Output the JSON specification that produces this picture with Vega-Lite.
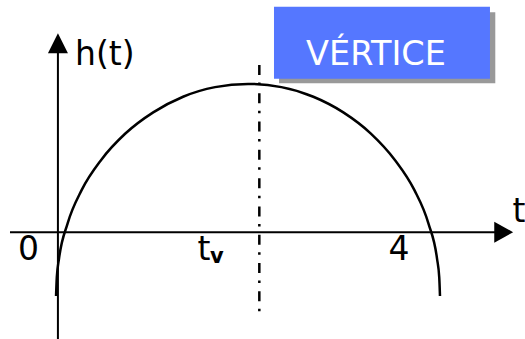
{
  "$schema": "https://vega.github.io/schema/vega-lite/v6.json",
  "width": 525,
  "height": 339,
  "autosize": {"type": "none"},
  "padding": 0,
  "background": "white",
  "config": {"view": {"stroke": null}, "text": {"font": "DejaVu Sans"}},
  "datasets": {
    "curve": [
      {"t": -0.020, "h": -1.731}, {"t": -0.012, "h": -1.229}, {"t": 0.011, "h": -0.732},
      {"t": 0.104, "h": 0.237}, {"t": 0.255, "h": 1.146}, {"t": 0.465, "h": 1.967},
      {"t": 0.722, "h": 2.676}, {"t": 1.020, "h": 3.251}, {"t": 1.340, "h": 3.675},
      {"t": 1.682, "h": 3.935}, {"t": 2.035, "h": 4.022}, {"t": 2.392, "h": 3.935},
      {"t": 2.734, "h": 3.675}, {"t": 3.055, "h": 3.251}, {"t": 3.350, "h": 2.676},
      {"t": 3.605, "h": 1.967}, {"t": 3.815, "h": 1.146}, {"t": 3.966, "h": 0.237},
      {"t": 4.059, "h": -0.732}, {"t": 4.082, "h": -1.229}, {"t": 4.090, "h": -1.731}
    ]
  },
  "encoding": {
    "x": {"field": "t", "type": "quantitative", "scale": {"domain": [-0.62, 5.0], "nice": false, "zero": false}, "axis": null},
    "y": {"field": "h", "type": "quantitative", "scale": {"domain": [-2.9, 6.3], "nice": false, "zero": false}, "axis": null}
  },
  "layer": [
    {
      "data": {"values": [{"t": 2.367, "t2": 4.682, "h": 5.967, "h2": 4.041}]},
      "mark": {"type": "rect", "color": "#999999"},
      "encoding": {"x2": {"field": "t2"}, "y2": {"field": "h2"}}
    },
    {
      "data": {"values": [{"t": 2.313, "t2": 4.625, "h": 6.119, "h2": 4.166}]},
      "mark": {"type": "rect", "color": "#5577ff"},
      "encoding": {"x2": {"field": "t2"}, "y2": {"field": "h2"}}
    },
    {
      "data": {"values": [
        {"t": -0.513, "t2": 4.772, "h": 0, "h2": 0},
        {"t": 0, "t2": 0, "h": -2.9, "h2": 5.126}
      ]},
      "mark": {"type": "rule", "color": "black", "strokeWidth": 2},
      "encoding": {"x2": {"field": "t2"}, "y2": {"field": "h2"}}
    },
    {
      "data": {"values": [{"t": 4.772, "h": 0}]},
      "mark": {"type": "point", "shape": "M-0.9,-1L0.9,0L-0.9,1Z", "size": 441, "filled": true, "color": "black", "opacity": 1}
    },
    {
      "data": {"values": [{"t": 0, "h": 5.126}]},
      "mark": {"type": "point", "shape": "M-1,1L0,-1L1,1Z", "size": 400, "filled": true, "color": "black", "opacity": 1}
    },
    {
      "data": {"values": [{"t": 2.156, "h": 4.537, "h2": -2.152}]},
      "mark": {"type": "rule", "color": "black", "strokeWidth": 2.5, "strokeDash": [10, 7.5, 2.5, 8.3]},
      "encoding": {"y2": {"field": "h2"}}
    },
    {
      "data": {"name": "curve"},
      "mark": {"type": "line", "color": "black", "strokeWidth": 2.5, "interpolate": "monotone"}
    },
    {
      "data": {"values": [
        {"t": 0.183, "h": 4.537, "label": "h(t)"},
        {"t": 1.494, "h": -0.754, "label": "t"},
        {"t": 4.866, "h": 0.285, "label": "t"}
      ]},
      "mark": {"type": "text", "align": "left", "baseline": "alphabetic", "fontSize": 33, "color": "black"},
      "encoding": {"text": {"field": "label"}}
    },
    {
      "data": {"values": [
        {"t": -0.315, "h": -0.754, "label": "0"},
        {"t": 3.651, "h": -0.754, "label": "4"}
      ]},
      "mark": {"type": "text", "align": "center", "baseline": "alphabetic", "fontSize": 33, "color": "black"},
      "encoding": {"text": {"field": "label"}}
    },
    {
      "data": {"values": [{"t": 1.628, "h": -0.828, "label": "v"}]},
      "mark": {"type": "text", "align": "left", "baseline": "alphabetic", "fontSize": 21, "fontWeight": "bold", "color": "black"},
      "encoding": {"text": {"field": "label"}}
    },
    {
      "data": {"values": [{"t": 3.405, "h": 4.537, "label": "VÉRTICE"}]},
      "mark": {"type": "text", "align": "center", "baseline": "alphabetic", "fontSize": 33.5, "color": "white"},
      "encoding": {"text": {"field": "label"}}
    }
  ]
}
